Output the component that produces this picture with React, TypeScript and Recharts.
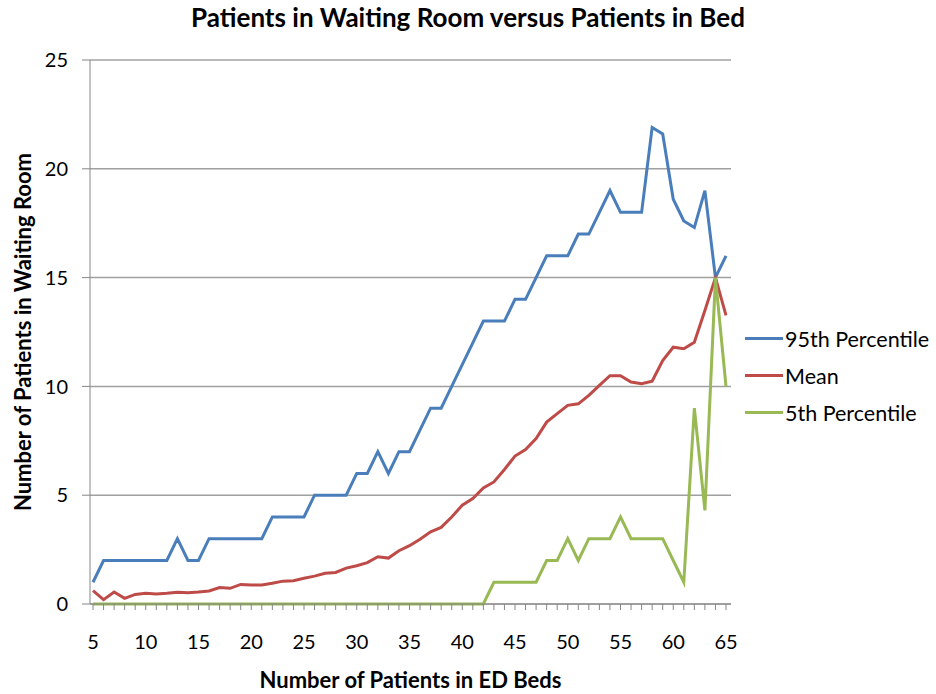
import React from 'react';
import { LineChart, Line, XAxis, YAxis, CartesianGrid, Label } from 'recharts';

const beds = [
  5, 6, 7, 8, 9, 10, 11, 12, 13, 14, 15, 16, 17, 18, 19, 20, 21, 22, 23, 24, 25,
  26, 27, 28, 29, 30, 31, 32, 33, 34, 35, 36, 37, 38, 39, 40, 41, 42, 43, 44, 45,
  46, 47, 48, 49, 50, 51, 52, 53, 54, 55, 56, 57, 58, 59, 60, 61, 62, 63, 64, 65];

const p95 = [
  1, 2, 2, 2, 2, 2, 2, 2, 3, 2, 2, 3, 3, 3, 3, 3, 3, 4, 4, 4, 4, 5, 5, 5, 5,
  6, 6, 7, 6, 7, 7, 8, 9, 9, 10, 11, 12, 13, 13, 13, 14, 14, 15, 16, 16, 16, 17, 17,
  18, 19, 18, 18, 18, 21.9, 21.6, 18.6, 17.6, 17.3, 19, 15, 16];

const mean = [
  0.61, 0.2, 0.55, 0.26, 0.44, 0.49, 0.46, 0.49, 0.54, 0.52, 0.55, 0.6, 0.76, 0.72,
  0.9, 0.87, 0.87, 0.95, 1.05, 1.07, 1.18, 1.28, 1.41, 1.45, 1.65, 1.76, 1.9, 2.17,
  2.11, 2.45, 2.68, 2.98, 3.32, 3.52, 4.0, 4.54, 4.85, 5.33, 5.61, 6.18, 6.8, 7.1,
  7.6, 8.36, 8.75, 9.13, 9.2, 9.59, 10.05, 10.49, 10.49, 10.2, 10.12, 10.24, 11.19,
  11.8, 11.73, 12.03, 13.49, 15, 13.26];

const p5 = [
  0, 0, 0, 0, 0, 0, 0, 0, 0, 0, 0, 0, 0, 0, 0, 0, 0, 0, 0, 0, 0, 0, 0, 0, 0,
  0, 0, 0, 0, 0, 0, 0, 0, 0, 0, 0, 0, 0, 1, 1, 1, 1, 1, 2, 2, 3, 2, 3, 3, 3, 4,
  3, 3, 3, 3, 2, 1, 9, 4.3, 15, 10];

const xLabels = [5, 10, 15, 20, 25, 30, 35, 40, 45, 50, 55, 60, 65];
const yTicks = [0, 5, 10, 15, 20, 25];

const series = [
  { key: 'p95', name: '95th Percentile', color: '#4a7ebb' },
  { key: 'mean', name: 'Mean', color: '#be4b48' },
  { key: 'p5', name: '5th Percentile', color: '#98b954' }];

const data = beds.map((b, i) => ({ beds: b, p95: p95[i], mean: mean[i], p5: p5[i] }));

const FONT = 'Lato, "Open Sans", sans-serif';

function XTick(props: any) {
  const { x, y, payload } = props;
  const v = payload.value;
  return (
    <g>
      <line x1={x} x2={x} y1={y - 8} y2={y - 2} stroke="#868686" strokeWidth={1} />
      {xLabels.includes(v) &&
      <text x={x} y={y + 37} textAnchor="middle" fontSize={20} fill="#000" fontFamily={FONT}>
          {v}
        </text>
      }
    </g>);

}

function LegendBox() {
  return (
    <div
      style={{
        position: 'absolute',
        left: 745,
        top: 320,
        fontFamily: FONT,
        fontSize: 21.5,
        color: '#000'
      }}>
      {series.map((s) =>
      <div key={s.key} style={{ display: 'flex', alignItems: 'center', height: 37 }}>
          <span style={{ display: 'inline-block', width: 38, height: 3, background: s.color, marginRight: 2 }} />
          <span>{s.name}</span>
        </div>
      )}
    </div>);

}

export default function App() {
  return (
    <div style={{ position: 'absolute', left: 0, top: 0, width: 936, height: 694, background: '#fff' }}>
      <div
        style={{
          position: 'absolute',
          top: 1,
          left: 0,
          width: 936,
          textAlign: 'center',
          fontFamily: FONT,
          fontWeight: 'bold',
          fontSize: 26,
          color: '#000'
        }}>
        Patients in Waiting Room versus Patients in Bed
      </div>
      <LineChart width={936} height={694} data={data} margin={{ top: 60, right: 205, bottom: 0, left: 0 }}>
        <CartesianGrid vertical={false} stroke="#a0a0a0" strokeWidth={1.5} />
        <XAxis
          dataKey="beds"
          type="number"
          domain={[5, 65]}
          ticks={beds}
          interval={0}
          padding={{ left: 3, right: 5 }}
          height={90}
          stroke="#868686"
          tickLine={false}
          tick={<XTick />}>
          <Label
            content={(p: any) =>
            <text
              x={p.viewBox.x + p.viewBox.width / 2}
              y={p.viewBox.y + 84}
              textAnchor="middle"
              fontSize={22}
              fontWeight="bold"
              fontFamily={FONT}
              fill="#000">
                Number of Patients in ED Beds
              </text>
            } />
        </XAxis>
        <YAxis
          domain={[0, 25]}
          ticks={yTicks}
          width={90}
          stroke="#868686"
          tickSize={8}
          tickMargin={14}
          tick={{ fontSize: 20, fill: '#000', fontFamily: FONT }}>
          <Label
            content={(p: any) =>
            <text
              x={0}
              y={0}
              transform={`translate(31, ${p.viewBox.y + p.viewBox.height / 2}) rotate(-90)`}
              textAnchor="middle"
              fontSize={22}
              fontWeight="bold"
              fontFamily={FONT}
              fill="#000">
                Number of Patients in Waiting Room
              </text>
            } />
        </YAxis>
        {series.map((s) =>
        <Line
          key={s.key}
          dataKey={s.key}
          name={s.name}
          stroke={s.color}
          strokeWidth={3}
          dot={false}
          isAnimationActive={false} />
        )}
      </LineChart>
      <LegendBox />
    </div>);

}
